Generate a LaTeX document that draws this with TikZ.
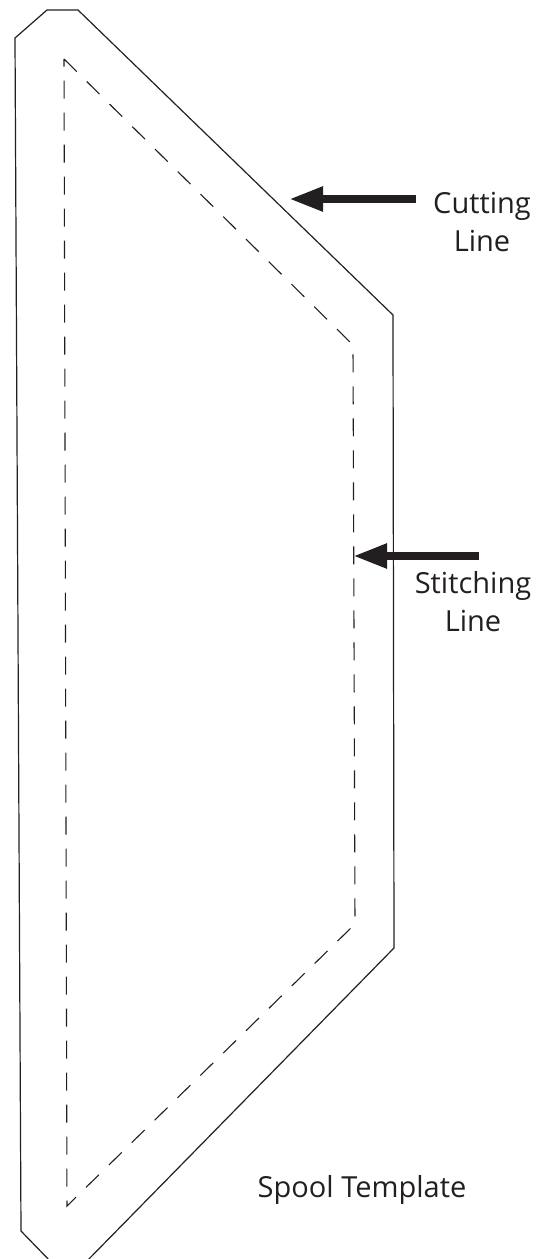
\documentclass[tikz,border=0pt]{standalone}
\usepackage{fontspec}
\setmainfont{Open Sans}
\usetikzlibrary{arrows.meta}
\definecolor{ink}{HTML}{231F20}
\begin{document}
\begin{tikzpicture}[x=1pt,y=-1pt,
  cutline/.style={draw=ink,line width=1.2pt,line join=miter},
  stitchline/.style={draw=ink,line width=1.1pt,dash pattern=on 18pt off 14pt},
  pointer/.style={draw=ink,line width=8pt,-{Triangle[length=34pt,width=23pt]}},
  lbl/.style={text=ink,font=\fontsize{29}{38}\selectfont,align=center,inner sep=0pt}]
\useasboundingbox (0,0) rectangle (548,1259);
\clip (0,0) rectangle (548,1259);
% outer cutting line
\coordinate (o1) at (15,38);
\coordinate (o2) at (47,10);
\coordinate (o3) at (78,10);
\coordinate (o4) at (393,315);
\coordinate (o5) at (394,948);
\coordinate (o6) at (84,1264);
\coordinate (o7) at (53,1264);
\coordinate (o8) at (21,1231);
\draw[cutline] (o1) -- (o2) -- (o3) -- (o4) -- (o5) -- (o6) -- (o7) -- (o8) -- cycle;
% inner stitching line
\coordinate (s1) at (64,59);
\coordinate (s2) at (353,345);
\coordinate (s3) at (355,924);
\coordinate (s4) at (67,1206);
\draw[stitchline] (s1) -- (s2) -- (s3) -- (s4) -- cycle;
% labels
\node[lbl] (cut) at (482,222) {Cutting\\Line};
\node[lbl] (stitch) at (473,602) {Stitching\\Line};
\node[lbl,anchor=base] (title) at (362,1197) {Spool Template};
% arrows
\coordinate (cuttail) at (416,199);
\coordinate (cuttip) at (289,199);
\coordinate (sttail) at (479,556);
\coordinate (sttip) at (353,556);
\draw[pointer] (cuttail) -- (cuttip);
\draw[pointer] (sttail) -- (sttip);
\end{tikzpicture}
\end{document}
